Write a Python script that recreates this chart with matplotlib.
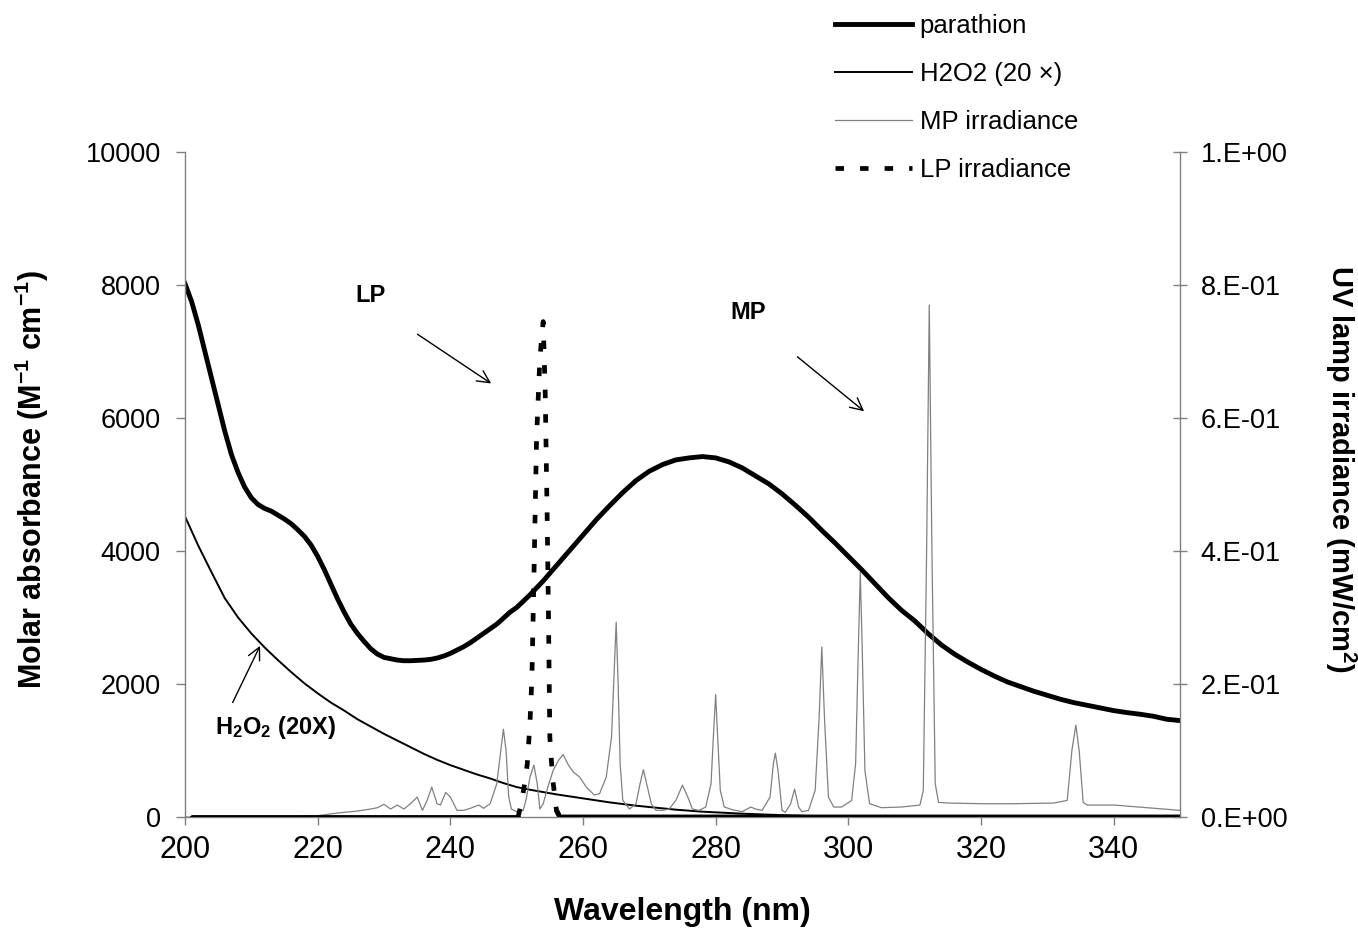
import matplotlib
matplotlib.use("Agg")
import numpy as np
import matplotlib.pyplot as plt

plt.rcParams['font.family'] = ['Liberation Sans', 'DejaVu Sans']
plt.rcParams['mathtext.fontset'] = 'custom'
plt.rcParams['mathtext.rm'] = 'Liberation Sans'
plt.rcParams['mathtext.bf'] = 'Liberation Sans:bold'
plt.rcParams['mathtext.default'] = 'bf'

# parathion molar absorbance (left axis)
para_wl = [200, 201, 202, 203, 204, 205, 206, 207, 208, 209, 210, 211, 212, 213, 214, 215,
           216, 217, 218, 219, 220, 221, 222, 223, 224, 225, 226, 227, 228, 229, 230, 231,
           232, 233, 234, 235, 236, 237, 238, 239, 240, 241, 242, 243, 244, 245, 246, 247,
           248, 249, 250, 252, 254, 256, 258, 260, 262, 264, 266, 268, 270, 272, 274, 276,
           278, 280, 282, 284, 286, 288, 290, 292, 294, 296, 298, 300, 302, 304, 306, 308,
           310, 312, 314, 316, 318, 320, 322, 324, 326, 328, 330, 332, 334, 336, 338, 340,
           342, 344, 346, 348, 350]
para_abs = [8020, 7750, 7400, 7000, 6600, 6200, 5800, 5450, 5180, 4960, 4800, 4700, 4640, 4600,
            4540, 4480, 4410, 4320, 4220, 4090, 3920, 3720, 3500, 3280, 3080, 2900, 2760, 2640,
            2530, 2450, 2400, 2380, 2360, 2350, 2350, 2355, 2360, 2370, 2390, 2420, 2460, 2510,
            2560, 2620, 2690, 2760, 2830, 2900, 2990, 3080, 3150, 3340, 3550, 3780, 4010, 4240,
            4470, 4680, 4880, 5060, 5200, 5300, 5370, 5400, 5420, 5400, 5340, 5250, 5130, 5010,
            4860, 4690, 4510, 4310, 4120, 3920, 3720, 3510, 3300, 3110, 2950, 2760, 2590, 2450,
            2330, 2220, 2120, 2030, 1960, 1890, 1830, 1770, 1720, 1680, 1640, 1600, 1570, 1545,
            1515, 1470, 1450]

# H2O2 molar absorbance x20 (left axis)
h2o2_wl = [200, 202, 204, 206, 208, 210, 212, 214, 216, 218, 220, 222, 224, 226, 228, 230,
           232, 234, 236, 238, 240, 242, 244, 246, 248, 250, 252, 254, 256, 258, 260, 262,
           264, 266, 268, 270, 272, 274, 276, 278, 280, 284, 288, 292, 296, 300, 306, 350]
h2o2_abs = [4520, 4080, 3680, 3290, 3000, 2760, 2550, 2360, 2180, 2010, 1860, 1720, 1600, 1470,
            1360, 1250, 1150, 1050, 950, 860, 780, 710, 640, 580, 510, 450, 410, 375, 340, 310,
            280, 250, 220, 195, 170, 150, 130, 110, 95, 80, 70, 50, 35, 22, 12, 6, 0, 0]

# medium pressure lamp irradiance (right axis)
mp_wl = [200, 205, 210, 215, 220, 223, 226, 228, 229, 230, 231, 232, 233, 234, 235, 235.8,
         236.5, 237.2, 238.0, 238.5, 239.3, 240, 241, 242, 243, 244.3, 245, 246, 247, 247.6,
         248, 248.4, 248.8, 249.2, 250, 251, 251.5, 252, 252.6, 253.1, 253.5, 254, 254.7,
         255.5, 256.3, 257, 257.7, 258.5, 259.5, 260.5, 261.7, 262.5, 263.5, 264.3, 264.7,
         265, 265.3, 265.6, 266, 267, 268, 268.6, 269.1, 269.6, 270.3, 271, 272, 273, 274,
         275, 275.8, 276.5, 277.5, 278.5, 279.3, 279.7, 280, 280.3, 280.7, 281.3, 282.5, 284,
         285.3, 286, 287, 288.2, 288.7, 289, 289.4, 290, 290.5, 291.3, 291.9, 292.5, 293, 294,
         295, 295.6, 296, 296.4, 297, 297.8, 299, 300.5, 301.1, 301.5, 301.8, 302.1, 302.5,
         303.2, 305, 308, 310.8, 311.3, 311.8, 312.2, 312.6, 313.1, 313.6, 315, 320, 325, 331,
         333, 333.7, 334.3, 334.8, 335.4, 336, 340, 345, 350]
mp_irr = [0.0, 0.0, 0.0, 0.0, 0.002, 0.006, 0.009, 0.012, 0.014, 0.019, 0.012, 0.018, 0.012,
          0.02, 0.03, 0.01, 0.025, 0.045, 0.02, 0.018, 0.037, 0.03, 0.01, 0.01, 0.013, 0.018,
          0.013, 0.02, 0.05, 0.1, 0.132, 0.1, 0.03, 0.012, 0.008, 0.01, 0.03, 0.06, 0.078, 0.05,
          0.012, 0.02, 0.045, 0.07, 0.085, 0.094, 0.08, 0.068, 0.06, 0.045, 0.033, 0.035, 0.06,
          0.12, 0.22, 0.293, 0.2, 0.08, 0.025, 0.012, 0.02, 0.05, 0.071, 0.05, 0.02, 0.01, 0.01,
          0.012, 0.025, 0.048, 0.03, 0.012, 0.01, 0.015, 0.05, 0.13, 0.184, 0.12, 0.04, 0.015,
          0.011, 0.008, 0.015, 0.012, 0.01, 0.03, 0.08, 0.096, 0.07, 0.01, 0.007, 0.02, 0.042,
          0.015, 0.008, 0.01, 0.04, 0.15, 0.256, 0.15, 0.03, 0.015, 0.015, 0.025, 0.08, 0.25,
          0.368, 0.25, 0.07, 0.02, 0.014, 0.015, 0.018, 0.04, 0.4, 0.77, 0.4, 0.05, 0.022,
          0.021, 0.02, 0.02, 0.021, 0.025, 0.1, 0.138, 0.1, 0.022, 0.018, 0.018, 0.014, 0.01]

# low pressure lamp irradiance (right axis)
lp_wl = [201, 210, 220, 230, 240, 249.5, 250.2, 250.7, 251.2, 251.6, 252.0, 252.3, 252.6,
         253.0, 253.5, 254.0, 254.3, 254.6, 254.8, 255.0, 255.4, 256.0, 256.5, 260, 280,
         300, 320, 340, 350]
lp_irr = [0, 0, 0, 0, 0, 0, 0.0, 0.02, 0.05, 0.08, 0.14, 0.21, 0.36, 0.57, 0.69, 0.745,
          0.64, 0.45, 0.3, 0.12, 0.06, 0.01, 0, 0, 0, 0, 0, 0, 0]

left_ticks = [0, 2000, 4000, 6000, 8000, 10000]
right_ticks = [0, 0.2, 0.4, 0.6, 0.8, 1.0]
x_ticks = [200, 220, 240, 260, 280, 300, 320, 340]

fig = plt.figure(figsize=(13.58, 9.33), dpi=100)
ax = fig.add_axes([185 / 1358, 1 - 817 / 933, 995 / 1358, 665 / 933])
ax2 = ax.twinx()

l_para, = ax.plot(para_wl, para_abs, color='black', lw=3.5, solid_joinstyle='round')
l_h2o2, = ax.plot(h2o2_wl, h2o2_abs, color='black', lw=1.4)

l_mp, = ax2.plot(mp_wl, mp_irr, color='#808080', lw=0.9)
lp_wl_a = np.array(lp_wl)
lp_irr_a = np.array(lp_irr)
peak = (lp_wl_a >= 250.2) & (lp_wl_a <= 256.5)
low_left = lp_wl_a <= 250.2
low_right = lp_wl_a >= 256.0
ax2.plot(lp_wl_a[low_left], lp_irr_a[low_left], color='black', lw=3.5, solid_capstyle='round')
ax2.plot(lp_wl_a[low_right], lp_irr_a[low_right], color='black', lw=3.5, solid_capstyle='round')
l_lp, = ax2.plot(lp_wl_a[peak], lp_irr_a[peak], color='black', lw=3.4, dashes=(1.8, 3.4),
                 dash_capstyle='butt')

ax.set_xlim(200, 350)
ax.set_ylim(0, 10000)
ax2.set_ylim(0, 1.0)
ax.set_xticks(x_ticks)
ax.set_yticks(left_ticks)
ax2.set_yticks(right_ticks)
ax2.set_yticklabels(["%#.0E" % v for v in right_ticks])

ax.spines['top'].set_visible(False)
ax2.spines['top'].set_visible(False)
ax2.spines['left'].set_visible(False)
ax2.spines['bottom'].set_visible(False)
ax.spines['right'].set_visible(False)
for sp in [ax.spines['left'], ax.spines['bottom'], ax2.spines['right']]:
    sp.set_color('#808080')
    sp.set_linewidth(1)

ax.tick_params(axis='x', direction='out', length=6, width=1, color='#808080',
               labelsize=22, pad=7)
ax.tick_params(axis='y', direction='out', length=6.5, width=1, color='#808080',
               labelsize=19.5, pad=11)
ax2.tick_params(axis='y', direction='inout', length=10, width=1, color='#808080',
                labelsize=19.5, pad=10)

ax.set_xlabel("Wavelength (nm)", fontsize=23, fontweight='bold', va='center')
ax.xaxis.set_label_coords(0.5, -0.143)
ax.set_ylabel(r"Molar absorbance (M$^{-1}$ cm$^{-1}$)", fontsize=22, fontweight='bold',
              va='center')
ax.yaxis.set_label_coords(-0.154, 0.507)
ax2.set_ylabel(r"UV lamp irradiance (mW/cm$^{2}$)", fontsize=21, fontweight='bold',
               rotation=-90, va='center')
ax2.yaxis.set_label_coords(1.161, 0.523)

# annotations
ax.text(227.9, 7835, "LP", ha='center', va='center', fontsize=17, fontweight='bold')
ax.annotate("", xy=(246.5, 6496), xytext=(234.7, 7283),
            arrowprops=dict(arrowstyle='->', lw=1, color='black', mutation_scale=22))
ax.text(284.9, 7579, "MP", ha='center', va='center', fontsize=17, fontweight='bold')
ax.annotate("", xy=(302.7, 6075), xytext=(292.0, 6947),
            arrowprops=dict(arrowstyle='->', lw=1, color='black', mutation_scale=22))
ax.text(213.7, 1353, r"H$_2$O$_2$ (20X)", ha='center', va='center', fontsize=17,
        fontweight='bold')
ax.annotate("", xy=(211.5, 2612), xytext=(207.0, 1684),
            arrowprops=dict(arrowstyle='->', lw=1, color='black', mutation_scale=22))

fig.legend([l_para, l_h2o2, l_mp, l_lp],
           ["parathion", "H2O2 (20 \u00d7)", "MP irradiance", "LP irradiance"],
           loc='upper left', bbox_to_anchor=(835 / 1358, 1 - 14 / 933), frameon=False,
           fontsize=18.5, handlelength=3, handletextpad=0.3, labelspacing=0.93,
           borderpad=0, borderaxespad=0)

fig.savefig("out.png", dpi=100)
